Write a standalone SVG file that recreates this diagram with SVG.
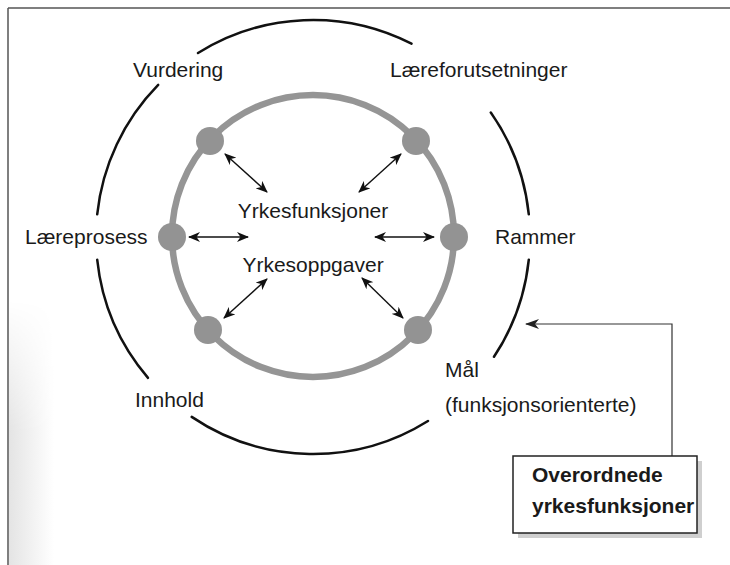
<svg xmlns="http://www.w3.org/2000/svg" width="730" height="565" viewBox="0 0 730 565">
<style>
text{font-family:"Liberation Sans",Arial,sans-serif;font-size:21px;fill:#1a1a1a}
.bold{font-weight:bold}
.outer{fill:none;stroke:#111;stroke-width:2.5;stroke-linecap:round}
.ring{fill:none;stroke:#959595;stroke-width:6.5}
.dot{fill:#939393}
.arr{stroke:#111;stroke-width:1.4;fill:none;marker-start:url(#ah);marker-end:url(#ah)}
.conn{stroke:#333;stroke-width:1.2;fill:none}
</style>
<defs>
<marker id="ah" viewBox="0 0 12 10" refX="11" refY="5" markerWidth="12" markerHeight="10" markerUnits="userSpaceOnUse" orient="auto-start-reverse">
<path d="M0,0 L12,5 L0,10 L3.5,5 z" fill="#111"/>
</marker>
<marker id="ah2" viewBox="0 0 14 10" refX="13" refY="5" markerWidth="14" markerHeight="10" markerUnits="userSpaceOnUse" orient="auto">
<path d="M0,0 L14,5 L0,10 L4,5 z" fill="#222"/>
</marker>
<linearGradient id="shade" x1="0" y1="0" x2="1" y2="0">
<stop offset="0" stop-color="#e4e4e4"/>
<stop offset="1" stop-color="#ffffff"/>
</linearGradient>
<linearGradient id="fadev" x1="0" y1="0" x2="0" y2="1">
<stop offset="0" stop-color="#000"/>
<stop offset="0.5" stop-color="#fff"/>
<stop offset="1" stop-color="#fff"/>
</linearGradient>
<mask id="m">
<rect x="9" y="300" width="45" height="265" fill="url(#fadev)"/>
</mask>
</defs>
<rect width="730" height="565" fill="#fff"/>
<rect x="9" y="300" width="45" height="265" fill="url(#shade)" mask="url(#m)"/>
<g id="frame">
<line x1="8" y1="8" x2="730" y2="8" stroke="#555" stroke-width="1.5"/>
<line x1="8" y1="8" x2="8" y2="565" stroke="#555" stroke-width="1.5"/>
</g>
<g id="outer-circle">
<path class="outer" d="M198,53 A217,217 0 0 1 411.5,43.7"/>
<path class="outer" d="M490.8,112.5 A217,217 0 0 1 528.8,214.3"/>
<path class="outer" d="M528.8,259.7 A217,217 0 0 1 494,356.8"/>
<path class="outer" d="M428,421 A217,217 0 0 1 191.7,416.9"/>
<path class="outer" d="M148,377.9 A217,217 0 0 1 97.2,259.7"/>
<path class="outer" d="M97.2,214.3 A217,217 0 0 1 158.2,84.9"/>
</g>
<g id="inner-ring">
<circle class="ring" cx="313" cy="236" r="141"/>
</g>
<g id="nodes">
<circle id="node-tl" class="dot" cx="210" cy="141" r="14"/>
<circle id="node-tr" class="dot" cx="416" cy="141" r="14"/>
<circle id="node-l" class="dot" cx="172" cy="237" r="14"/>
<circle id="node-r" class="dot" cx="454" cy="237" r="14"/>
<circle id="node-bl" class="dot" cx="208" cy="330" r="14"/>
<circle id="node-br" class="dot" cx="418" cy="330" r="14"/>
</g>
<g id="connectors">
<line class="arr" x1="225" y1="154" x2="267" y2="192"/>
<line class="arr" x1="401" y1="154" x2="359" y2="192"/>
<line class="arr" x1="189" y1="237" x2="248" y2="237"/>
<line class="arr" x1="375" y1="237" x2="434" y2="237"/>
<line class="arr" x1="224" y1="318" x2="267" y2="279"/>
<line class="arr" x1="403" y1="318" x2="362" y2="278"/>
<polyline class="conn" points="672,456 672,324 526,324" marker-end="url(#ah2)"/>
</g>
<g id="labels">
<text x="133" y="77">Vurdering</text>
<text x="390" y="77">Læreforutsetninger</text>
<text x="25" y="244">Læreprosess</text>
<text x="495" y="244">Rammer</text>
<text x="445" y="377">Mål</text>
<text x="445" y="412">(funksjonsorienterte)</text>
<text x="135" y="407">Innhold</text>
<text x="313" y="218" text-anchor="middle">Yrkesfunksjoner</text>
<text x="313" y="272" text-anchor="middle">Yrkesoppgaver</text>
</g>
<g id="box">
<rect x="518" y="461" width="184" height="77" fill="#cfcfcf"/>
<rect x="513" y="456" width="184" height="77" fill="#fff" stroke="#222" stroke-width="1.5"/>
<text class="bold" x="532" y="482">Overordnede</text>
<text class="bold" x="532" y="513">yrkesfunksjoner</text>
</g>
</svg>
